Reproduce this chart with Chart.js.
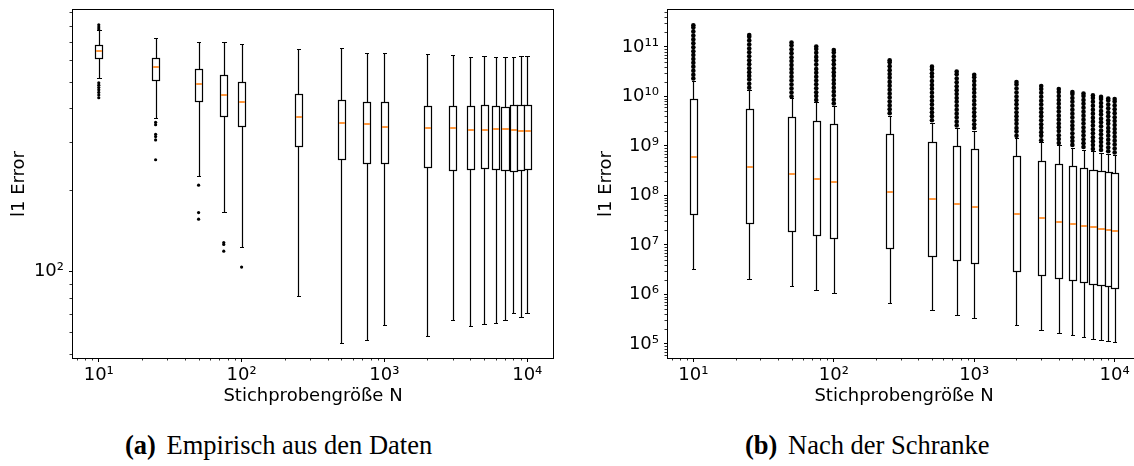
<!DOCTYPE html>
<html><head><meta charset="utf-8">
<script src="https://cdn.jsdelivr.net/npm/chart.js@4.4.0/dist/chart.umd.min.js"></script>
<style>
html,body{margin:0;padding:0;background:#fff;overflow:hidden;}
#wrap{position:relative;width:1134px;height:466px;overflow:hidden;background:#fff;}
#ca{position:absolute;left:0;top:0;}
#cb{position:absolute;left:580px;top:0;}
.cap{position:absolute;top:432px;font-family:"Liberation Serif",serif;font-size:26.5px;line-height:26.5px;white-space:nowrap;color:#000;}
.cap b{margin-right:4px;}
</style></head><body>
<div id="wrap">
<canvas id="ca" width="560" height="410"></canvas>
<canvas id="cb" width="570" height="410"></canvas>
<div class="cap" style="left:125px"><b>(a)</b> Empirisch aus den Daten</div>
<div class="cap" style="left:745px"><b>(b)</b> Nach der Schranke</div>
</div>
<script>
// ---- data ----
const positions = [10,25,50,75,100,250,500,750,1000,2000,3000,4000,5000,6000,7000,8000,9000,10000];

// (a) Empirisch aus den Daten
const lowA  = [514,367,225,166,123,81.2,54.8,56.2,63.7,58.0,66.4,63.3,64.4,64.9,66.2,70.3,68.2,70.3];
const q1A   = [609,507,425,373,344,291,260,250,251,242,237,239,241,238,237,235,236,239];
const medA  = [646,566,491,448,421,370,352,348,340,338,338,332,331,335,336,333,328,330];
const q3A   = [680,609,556,527,498,449,428,422,420,407,408,407,410,408,404,410,409,411];
const highA = [776,721,699,697,686,659,664,635,634,631,628,614,622,614,615,614,619,619];
const fliersA = [
  [808,793,780,495,485,475,466,456,446,436],
  [354,347,320,314,305,258],
  [208,165,156],
  [128,126,119],
  [104],
  [],[],[],[],[],[],[],[],[],[],[],[],[]
];

// (b) Nach der Schranke
const lowB  = [3.3e6,2.1e6,1.49e6,1.23e6,1.07e6,6.7e5,4.8e5,3.85e5,3.35e5,2.38e5,1.95e5,1.67e5,1.5e5,1.38e5,1.28e5,1.2e5,1.15e5,1.08e5];
const q1B   = [4.3e7,2.74e7,1.92e7,1.59e7,1.36e7,8.6e6,6.1e6,4.98e6,4.3e6,3.03e6,2.52e6,2.15e6,1.93e6,1.76e6,1.66e6,1.58e6,1.49e6,1.37e6];
const medB  = [6.0e8,3.77e8,2.68e8,2.15e8,1.87e8,1.18e8,8.4e7,6.8e7,5.9e7,4.2e7,3.46e7,2.96e7,2.65e7,2.46e7,2.28e7,2.14e7,2.01e7,1.92e7];
const q3B   = [8.8e9,5.5e9,3.85e9,3.16e9,2.74e9,1.72e9,1.22e9,1.0e9,8.7e8,6.2e8,5.06e8,4.4e8,3.94e8,3.6e8,3.33e8,3.13e8,2.94e8,2.8e8];
const highB = [2.06e10,1.35e10,9.2e9,7.6e9,6.4e9,4.0e9,2.9e9,2.34e9,2.04e9,1.45e9,1.19e9,1.03e9,9.2e8,8.4e8,7.8e8,7.3e8,6.9e8,6.6e8];
const fliersB = [
  [2.3e10,2.75e10,3.3e10,4.0e10,4.8e10,5.7e10,6.9e10,8.2e10,9.9e10,1.19e11,1.42e11,1.71e11,2.05e11,2.46e11,2.75e11],
  [1.5e10,1.8e10,2.2e10,2.6e10,3.1e10,3.7e10,4.5e10,5.4e10,6.5e10,7.8e10,9.3e10,1.12e11,1.35e11,1.6e11,1.74e11],
  [1.0e10,1.2e10,1.45e10,1.75e10,2.1e10,2.5e10,3.0e10,3.6e10,4.3e10,5.2e10,6.2e10,7.5e10,9.0e10,1.08e11,1.23e11],
  [8.5e9,1.02e10,1.22e10,1.47e10,1.76e10,2.1e10,2.5e10,3.0e10,3.6e10,4.4e10,5.3e10,6.3e10,7.6e10,9.1e10,1.02e11],
  [7.2e9,8.6e9,1.04e10,1.25e10,1.5e10,1.8e10,2.15e10,2.6e10,3.1e10,3.7e10,4.5e10,5.4e10,6.4e10,7.7e10,8.7e10],
  [4.6e9,5.5e9,6.6e9,7.9e9,9.5e9,1.14e10,1.37e10,1.64e10,1.97e10,2.4e10,2.85e10,3.4e10,4.1e10,4.9e10,5.4e10],
  [3.3e9,4.0e9,4.8e9,5.7e9,6.9e9,8.2e9,9.9e9,1.19e10,1.43e10,1.71e10,2.05e10,2.5e10,2.95e10,3.5e10,4.0e10],
  [2.6e9,3.1e9,3.75e9,4.5e9,5.4e9,6.5e9,7.8e9,9.3e9,1.12e10,1.34e10,1.61e10,1.93e10,2.3e10,2.8e10,3.2e10],
  [2.3e9,2.75e9,3.3e9,4.0e9,4.8e9,5.7e9,6.9e9,8.2e9,9.9e9,1.19e10,1.42e10,1.71e10,2.05e10,2.45e10,2.75e10],
  [1.6e9,1.95e9,2.3e9,2.8e9,3.35e9,4.0e9,4.8e9,5.8e9,7.0e9,8.4e9,1.0e10,1.2e10,1.45e10,1.74e10,1.95e10],
  [1.3e9,1.6e9,1.9e9,2.3e9,2.75e9,3.3e9,4.0e9,4.8e9,5.7e9,6.9e9,8.2e9,9.9e9,1.19e10,1.42e10,1.62e10],
  [1.15e9,1.38e9,1.65e9,2.0e9,2.4e9,2.85e9,3.4e9,4.1e9,4.95e9,5.9e9,7.1e9,8.5e9,1.02e10,1.23e10,1.41e10],
  [1.05e9,1.26e9,1.5e9,1.8e9,2.2e9,2.6e9,3.1e9,3.75e9,4.5e9,5.4e9,6.5e9,7.8e9,9.3e9,1.12e10,1.23e10],
  [9.5e8,1.14e9,1.37e9,1.64e9,1.97e9,2.35e9,2.85e9,3.4e9,4.1e9,4.9e9,5.9e9,7.1e9,8.5e9,1.02e10,1.15e10],
  [8.7e8,1.04e9,1.25e9,1.5e9,1.8e9,2.15e9,2.6e9,3.1e9,3.7e9,4.5e9,5.4e9,6.5e9,7.8e9,9.3e9,1.05e10],
  [8.3e8,1.0e9,1.2e9,1.43e9,1.72e9,2.05e9,2.5e9,3.0e9,3.55e9,4.3e9,5.1e9,6.2e9,7.4e9,8.9e9,9.8e9],
  [7.8e8,9.3e8,1.12e9,1.34e9,1.61e9,1.93e9,2.3e9,2.8e9,3.3e9,4.0e9,4.8e9,5.8e9,6.9e9,8.3e9,9.1e9],
  [7.4e8,8.9e8,1.07e9,1.28e9,1.54e9,1.84e9,2.2e9,2.65e9,3.2e9,3.8e9,4.6e9,5.5e9,6.6e9,7.9e9,8.9e9]
];

// tick labels
const xTickValues = [10,100,1000,10000];
const xTickLabels = ['10¹','10²','10³','10⁴'];
const yTickValuesA = [100];
const yTickLabelsA = ['10²'];
const yTickValuesB = [1e5,1e6,1e7,1e8,1e9,1e10,1e11];
const yTickLabelsB = ['10⁵','10⁶','10⁷','10⁸','10⁹','10¹⁰','10¹¹'];

// axis titles
const xTitle = 'Stichprobengröße N';
const yTitle = 'l1 Error';

// ---- rendering ----
const FONT = {family:'DejaVu Sans', size:18};
const BOX_F = Math.pow(10, 0.026);
const CAP_F = Math.pow(10, 0.013);
const MEDIAN_COLOR = '#ff7f0e';

function logTicks(scale){
  const t = [];
  const lo = Math.floor(Math.log10(scale.min)), hi = Math.ceil(Math.log10(scale.max));
  for (let d = lo; d <= hi; d++) {
    for (let m = 1; m <= 9; m++) {
      const v = m * Math.pow(10, d);
      if (v >= scale.min * 0.9999 && v <= scale.max * 1.0001) t.push({value: v, major: m === 1});
    }
  }
  scale.ticks = t;
}
function labelFor(vals, labs){
  return function(value){
    const i = vals.findIndex(v => Math.abs(v - value) / v < 1e-6);
    return i >= 0 ? labs[i] : '';
  };
}
const snap = v => Math.round(v) + 0.5;

const boxPlugin = {
  id: 'boxes',
  afterDatasetsDraw(chart, args, o){
    const {ctx} = chart; const x = chart.scales.x, y = chart.scales.y;
    ctx.save();
    o.pos.forEach((p, i) => {
      const xc = snap(x.getPixelForValue(p));
      const xl = snap(x.getPixelForValue(p / BOX_F)), xr = snap(x.getPixelForValue(p * BOX_F));
      const cl = snap(x.getPixelForValue(p / CAP_F)), cr = snap(x.getPixelForValue(p * CAP_F));
      const yLo = snap(y.getPixelForValue(o.lo[i])), yQ1 = snap(y.getPixelForValue(o.q1[i]));
      const yMed = Math.round(y.getPixelForValue(o.med[i])), yQ3 = snap(y.getPixelForValue(o.q3[i]));
      const yHi = snap(y.getPixelForValue(o.hi[i]));
      ctx.strokeStyle = '#000';
      ctx.lineWidth = 1.2;
      ctx.beginPath();
      ctx.moveTo(xc, yQ1); ctx.lineTo(xc, yLo);
      ctx.moveTo(xc, yQ3); ctx.lineTo(xc, yHi);
      ctx.moveTo(cl - 0.5, yLo); ctx.lineTo(cr + 0.5, yLo);
      ctx.moveTo(cl - 0.5, yHi); ctx.lineTo(cr + 0.5, yHi);
      ctx.stroke();
      ctx.fillStyle = '#fff';
      ctx.fillRect(xl, yQ3, xr - xl, yQ1 - yQ3);
      ctx.strokeRect(xl, yQ3, xr - xl, yQ1 - yQ3);
      ctx.strokeStyle = MEDIAN_COLOR;
      ctx.lineWidth = 1.6;
      ctx.beginPath();
      ctx.moveTo(xl + 0.6, yMed); ctx.lineTo(xr - 0.6, yMed);
      ctx.stroke();
    });
    ctx.restore();
  }
};

const framePlugin = {
  id: 'frame',
  afterDraw(chart){
    const {ctx, chartArea: a} = chart;
    ctx.save();
    ctx.strokeStyle = '#000'; ctx.lineWidth = 1;
    ctx.strokeRect(snap(a.left) - 1, snap(a.top) - 1, Math.round(a.right - a.left) + 1, Math.round(a.bottom - a.top) + 1);
    // minor ticks
    ctx.lineWidth = 0.8;
    ctx.beginPath();
    chart.scales.x.ticks.forEach(t => {
      if (t.major) return;
      const px = snap(chart.scales.x.getPixelForValue(t.value));
      ctx.moveTo(px, Math.round(a.bottom)); ctx.lineTo(px, Math.round(a.bottom) + 2.5);
    });
    chart.scales.y.ticks.forEach(t => {
      if (t.major) return;
      const py = snap(chart.scales.y.getPixelForValue(t.value));
      ctx.moveTo(Math.round(a.left) - 1, py); ctx.lineTo(Math.round(a.left) - 3.5, py);
    });
    ctx.stroke();
    ctx.restore();
  }
};

function makeChart(id, cfg){
  const pts = [];
  cfg.fliers.forEach((arr, i) => arr.forEach(v => pts.push({x: positions[i], y: v})));
  return new Chart(document.getElementById(id), {
    type: 'scatter',
    data: {datasets: [{data: pts, backgroundColor: '#000', borderWidth: 0, pointRadius: cfg.pr, pointHoverRadius: cfg.pr, showLine: false}]},
    plugins: [boxPlugin, framePlugin],
    options: {
      responsive: false, animation: false, devicePixelRatio: 1,
      layout: {padding: {left: 0, top: 10, right: cfg.padRight, bottom: 0}},
      events: [],
      plugins: {
        legend: {display: false}, tooltip: {enabled: false},
        boxes: {pos: positions, lo: cfg.lo, q1: cfg.q1, med: cfg.med, q3: cfg.q3, hi: cfg.hi}
      },
      scales: {
        x: {
          type: 'logarithmic', min: 6.6, max: 15150,
          afterBuildTicks: logTicks,
          afterFit: s => { s.height = 52; s.paddingLeft = 0; s.paddingRight = 0; },
          ticks: {autoSkip: false, maxRotation: 0, minRotation: 0, padding: 3, color: '#000', font: FONT,
                  callback: labelFor(xTickValues, xTickLabels)},
          grid: {display: true, drawOnChartArea: false, drawTicks: true, tickLength: 4, tickWidth: 1,
                 tickColor: c => (c.tick && c.tick.major) ? '#000' : 'rgba(0,0,0,0)'},
          border: {display: false},
          title: {display: true, text: xTitle, color: '#000', font: FONT, padding: {top: 0, bottom: 3}}
        },
        y: {
          type: 'logarithmic', position: 'left', min: cfg.yMin, max: cfg.yMax,
          afterBuildTicks: logTicks,
          afterFit: s => { s.width = cfg.yW; s.paddingTop = 0; s.paddingBottom = 0; },
          ticks: {autoSkip: false, padding: 5, color: '#000', font: FONT,
                  callback: labelFor(cfg.yVals, cfg.yLabs)},
          grid: {display: true, drawOnChartArea: false, drawTicks: true, tickLength: 4, tickWidth: 1,
                 tickColor: c => (c.tick && c.tick.major) ? '#000' : 'rgba(0,0,0,0)'},
          border: {display: false},
          title: {display: true, text: yTitle, color: '#000', font: FONT, padding: {top: cfg.yTitlePad, bottom: 0}}
        }
      }
    }
  });
}

makeChart('ca', {fliers: fliersA, lo: lowA, q1: q1A, med: medA, q3: q3A, hi: highA,
  yMin: 48.2, yMax: 916, yVals: yTickValuesA, yLabs: yTickLabelsA, yW: 73, yTitlePad: 8.5, padRight: 7, pr: 1.6});
makeChart('cb', {fliers: fliersB, lo: lowB, q1: q1B, med: medB, q3: q3B, hi: highB,
  yMin: 5.21e4, yMax: 5.58e11, yVals: yTickValuesB, yLabs: yTickLabelsB, yW: 88, yTitlePad: 15.5, padRight: 10, pr: 2.3});
</script>
</body></html>
